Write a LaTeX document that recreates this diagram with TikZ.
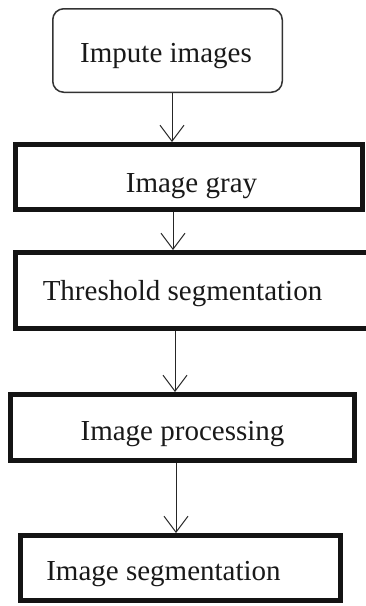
\documentclass[tikz,border=0pt]{standalone}
\usepackage{fontspec}
\setmainfont{Liberation Serif}
\usetikzlibrary{arrows.meta}
\begin{document}
\begin{tikzpicture}[x=1pt,y=-1pt,
  thickbox/.style={draw=black!92,line width=5pt,minimum width=#1,inner sep=0pt},
  roundbox/.style={draw=black!80,line width=1.5pt,rounded corners=11pt,inner sep=0pt},
  lbl/.style={anchor=base,inner sep=0pt,font=\fontsize{29}{34}\selectfont,text=black!90},
  arr/.style={draw=black!85,line width=1pt,-{Straight Barb[length=16pt,width=24pt,line width=1pt]}}]
\useasboundingbox (0,0) rectangle (366,606);
\node[roundbox,minimum width=229.5pt,minimum height=83.5pt] (b1) at (167.5,50.5) {};
\node[thickbox=347pt,minimum height=65pt] (b2) at (189,177) {};
\node[thickbox=356.5pt,minimum height=76pt] (b3) at (193.75,290.5) {};
\node[thickbox=344pt,minimum height=66pt] (b4) at (182.5,427.5) {};
\node[thickbox=320pt,minimum height=65pt] (b5) at (180.5,568) {};
\node[lbl] (t1) at (166,62) {Impute images};
\node[lbl] (t2) at (191.5,192) {Image gray};
\node[lbl] (t3) at (182.5,300) {Threshold segmentation};
\node[lbl] (t4) at (182.5,440) {Image processing};
\node[lbl] (t5) at (163.5,580) {Image segmentation};
\coordinate (x1) at (172,0);
\coordinate (x2) at (173,0);
\coordinate (x3) at (175,0);
\coordinate (x4) at (176,0);
\draw[arr] (b1.south -| x1) -- (b2.north -| x1);
\draw[arr] (b2.south -| x2) -- (b3.north -| x2);
\draw[arr] (b3.south -| x3) -- (b4.north -| x3);
\draw[arr] (b4.south -| x4) -- (b5.north -| x4);
\end{tikzpicture}
\end{document}
